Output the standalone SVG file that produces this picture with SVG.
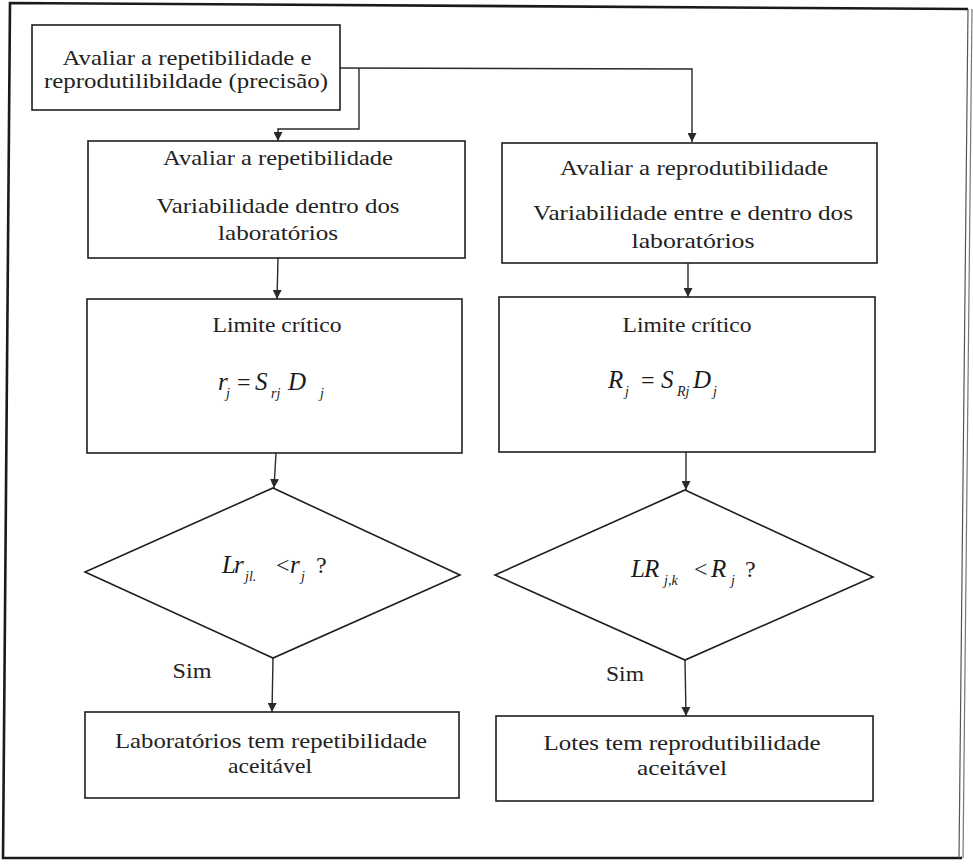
<svg xmlns="http://www.w3.org/2000/svg" width="973" height="864" viewBox="0 0 973 864">
  <defs>
    <marker id="arrow" viewBox="0 0 10 10" refX="10" refY="5" markerWidth="9" markerHeight="9" markerUnits="userSpaceOnUse" orient="auto">
      <path d="M0,0 L10,5 L0,10 Z" fill="#2a2a2a"/>
    </marker>
    <style>
      .box { fill: #ffffff; stroke: #1e1e1e; stroke-width: 1.6; }
      .edge { fill: none; stroke: #2a2a2a; stroke-width: 1.4; marker-end: url(#arrow); }
      .lbl { font-family: "Liberation Serif", "DejaVu Serif", serif; font-size: 21px; fill: #222; text-anchor: middle; }
      .math { font-family: "Liberation Serif", "DejaVu Serif", serif; font-style: italic; font-size: 25px; fill: #1a1a1a; }
      .sub { font-family: "Liberation Serif", "DejaVu Serif", serif; font-style: italic; font-size: 14px; fill: #1a1a1a; }
      .op { font-family: "Liberation Serif", "DejaVu Serif", serif; font-size: 24px; fill: #1a1a1a; }
    </style>
  </defs>

  <rect x="0" y="0" width="973" height="864" fill="#ffffff"/>

  <!-- page frame -->
  <g id="frame">
    <path d="M962,858 L3,858 L10,3 L968,9" fill="none" stroke="#1a1a1a" stroke-width="2.6"/>
    <line x1="968" y1="9" x2="959" y2="858" stroke="#555" stroke-width="1.2"/>
    <line x1="972" y1="9" x2="963" y2="858" stroke="#777" stroke-width="1.2"/>
  </g>

  <!-- connectors -->
  <g id="connectors">
    <polyline class="edge" points="340,68 692,69 692,142"/>
    <polyline class="edge" points="359,68 359,129 278,129 278,141"/>
    <line class="edge" x1="278" y1="258" x2="277" y2="299"/>
    <line class="edge" x1="688" y1="263" x2="688" y2="297"/>
    <line class="edge" x1="276" y1="453" x2="274" y2="488"/>
    <line class="edge" x1="686" y1="452" x2="686" y2="490"/>
    <line class="edge" x1="273" y1="658" x2="272" y2="712"/>
    <line class="edge" x1="685" y1="660" x2="686" y2="716"/>
  </g>

  <g id="start">
    <rect class="box" x="32" y="25" width="308" height="85"/>
    <text class="lbl" x="187" y="65" textLength="249" lengthAdjust="spacingAndGlyphs">Avaliar a repetibilidade e</text>
    <text class="lbl" x="186" y="88" textLength="284" lengthAdjust="spacingAndGlyphs">reprodutilibildade (precisão)</text>
  </g>

  <g id="repetibilidade">
    <rect class="box" x="88" y="141" width="377" height="117"/>
    <text class="lbl" x="278" y="165" textLength="230" lengthAdjust="spacingAndGlyphs">Avaliar a repetibilidade</text>
    <text class="lbl" x="278" y="213" textLength="243" lengthAdjust="spacingAndGlyphs">Variabilidade dentro dos</text>
    <text class="lbl" x="278" y="240" textLength="120" lengthAdjust="spacingAndGlyphs">laboratórios</text>
  </g>

  <g id="reprodutibilidade">
    <rect class="box" x="502" y="143" width="375" height="120"/>
    <text class="lbl" x="694" y="175" textLength="268" lengthAdjust="spacingAndGlyphs">Avaliar a reprodutibilidade</text>
    <text class="lbl" x="693" y="220" textLength="320" lengthAdjust="spacingAndGlyphs">Variabilidade entre e dentro dos</text>
    <text class="lbl" x="693" y="248" textLength="123" lengthAdjust="spacingAndGlyphs">laboratórios</text>
  </g>

  <g id="limite-r">
    <rect class="box" x="87" y="299" width="375" height="154"/>
    <text class="lbl" x="277" y="332" textLength="129" lengthAdjust="spacingAndGlyphs">Limite crítico</text>
    <text class="math" x="218" y="390">r</text>
    <text class="sub" x="226" y="398">j</text>
    <text class="op" x="237" y="390">=</text>
    <text class="math" x="255" y="390">S</text>
    <text class="sub" x="271" y="398">rj</text>
    <text class="math" x="288" y="390">D</text>
    <text class="sub" x="320" y="398">j</text>
  </g>

  <g id="limite-R">
    <rect class="box" x="499" y="297" width="376" height="155"/>
    <text class="lbl" x="687" y="332" textLength="129" lengthAdjust="spacingAndGlyphs">Limite crítico</text>
    <text class="math" x="608" y="388">R</text>
    <text class="sub" x="625" y="396">j</text>
    <text class="op" x="641" y="388">=</text>
    <text class="math" x="661" y="388">S</text>
    <text class="sub" x="677" y="396" font-size="12">Rj</text>
    <text class="math" x="693" y="388">D</text>
    <text class="sub" x="713" y="396">j</text>
  </g>

  <g id="decisao-r">
    <polygon class="box" points="273,488 460,575 273,658 85,572"/>
    <text class="math" x="222" y="573">L</text>
    <text class="math" x="234" y="573">r</text>
    <text class="sub" x="245" y="581">jl.</text>
    <text class="op" x="276" y="573">&lt;</text>
    <text class="math" x="290" y="573">r</text>
    <text class="sub" x="301" y="581">j</text>
    <text class="op" x="316" y="573">?</text>
  </g>

  <g id="decisao-R">
    <polygon class="box" points="685,490 873,577 685,660 495,575"/>
    <text class="math" x="631" y="577">L</text>
    <text class="math" x="644" y="577">R</text>
    <text class="sub" x="664" y="585">j,k</text>
    <text class="op" x="694" y="577">&lt;</text>
    <text class="math" x="711" y="577">R</text>
    <text class="sub" x="731" y="585">j</text>
    <text class="op" x="745" y="577">?</text>
  </g>

  <g id="sim-r">
    <text class="lbl" x="192" y="678" textLength="39" lengthAdjust="spacingAndGlyphs">Sim</text>
  </g>
  <g id="sim-R">
    <text class="lbl" x="625" y="681" textLength="38" lengthAdjust="spacingAndGlyphs">Sim</text>
  </g>

  <g id="aceitavel-r">
    <rect class="box" x="85" y="712" width="374" height="86"/>
    <text class="lbl" x="271" y="748" textLength="312" lengthAdjust="spacingAndGlyphs">Laboratórios tem repetibilidade</text>
    <text class="lbl" x="270" y="773" textLength="84" lengthAdjust="spacingAndGlyphs">aceitável</text>
  </g>

  <g id="aceitavel-R">
    <rect class="box" x="496" y="716" width="377" height="85"/>
    <text class="lbl" x="682" y="750" textLength="277" lengthAdjust="spacingAndGlyphs">Lotes tem reprodutibilidade</text>
    <text class="lbl" x="682" y="775" textLength="90" lengthAdjust="spacingAndGlyphs">aceitável</text>
  </g>
</svg>
